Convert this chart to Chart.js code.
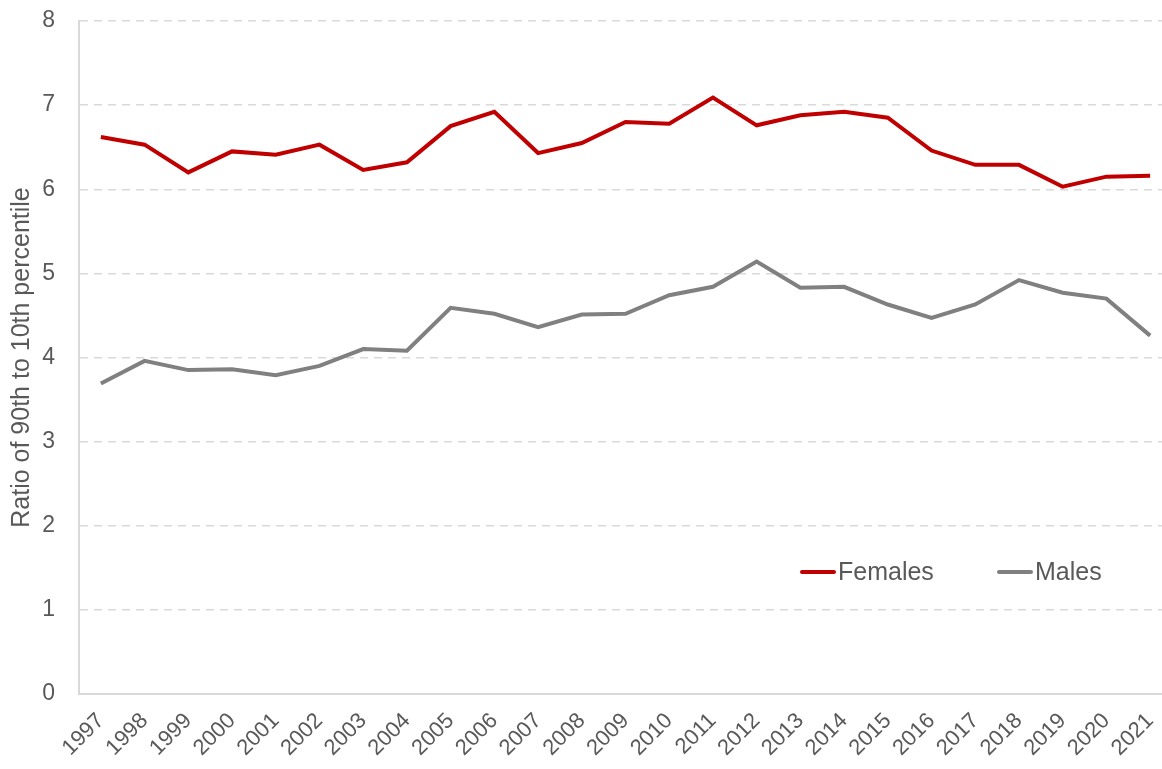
<!DOCTYPE html>
<html>
<head>
<meta charset="utf-8">
<script src="https://cdn.jsdelivr.net/npm/chart.js@4/dist/chart.umd.min.js"></script>
<style>
  html, body { margin: 0; padding: 0; background: #fff; overflow: hidden; }
  #wrap { width: 1172px; height: 769px; }
</style>
</head>
<body>
<div id="wrap"><canvas id="ratio"></canvas></div>
<script>
let years = ['1997','1998','1999','2000','2001','2002','2003','2004','2005','2006','2007','2008',
  '2009','2010','2011','2012','2013','2014','2015','2016','2017','2018','2019','2020','2021']
let females = [6.62,6.53,6.20,6.45,6.41,6.53,6.23,6.32,6.75,6.92,6.43,6.55,
  6.80,6.78,7.09,6.76,6.88,6.92,6.85,6.46,6.29,6.29,6.03,6.15,6.16]
let males = [3.69,3.96,3.85,3.86,3.79,3.90,4.10,4.08,4.59,4.52,4.36,4.51,
  4.52,4.74,4.84,5.14,4.83,4.84,4.63,4.47,4.63,4.92,4.77,4.70,4.26]
let seriesNames = ['Females','Males']
let seriesColors = ['#c00000','#808080']

let textColor = '#595959'
let font = 'Liberation Sans, Arial, sans-serif'

// legend sits inside the plot, bottom right
let innerLegend = {
  id: 'innerLegend',
  afterDraw(chart) {
    let ctx = chart.ctx
    let spots = [800, 997]
    ctx.save()
    ctx.font = '25px ' + font
    ctx.textBaseline = 'middle'
    chart.data.datasets.forEach((ds, i) => {
      let x = spots[i], y = 572
      ctx.strokeStyle = ds.borderColor
      ctx.lineWidth = 4
      ctx.lineCap = 'round'
      ctx.beginPath()
      ctx.moveTo(x + 2, y)
      ctx.lineTo(x + 34, y)
      ctx.stroke()
      ctx.fillStyle = textColor
      ctx.fillText(ds.label, x + 38, y + 1)
    })
    ctx.restore()
  }
}

let ctx = document.querySelector('#ratio').getContext('2d')

let chart = new Chart(ctx, {
  type: 'line',
  data: {
    labels: years,
    datasets: [{
      label: seriesNames[0],
      data: females,
      borderColor: seriesColors[0],
      borderWidth: 4,
      pointRadius: 0,
      tension: 0
    }, {
      label: seriesNames[1],
      data: males,
      borderColor: seriesColors[1],
      borderWidth: 4,
      pointRadius: 0,
      tension: 0
    }]
  },
  options: {
    responsive: true,
    maintainAspectRatio: false,
    animation: false,
    layout: { padding: { top: 21, right: 0, left: 0, bottom: 0 } },
    plugins: {
      legend: { display: false },
      tooltip: { enabled: false }
    },
    scales: {
      x: {
        offset: true,
        grid: { display: false, drawTicks: false },
        border: { color: '#d9d9d9', width: 2 },
        ticks: {
          color: textColor,
          font: { family: font, size: 22 },
          minRotation: 45,
          maxRotation: 45,
          autoSkip: false,
          padding: 14
        },
        afterFit(scale) {
          scale.height = 75
          scale.paddingLeft = 0
          scale.paddingRight = 0
        }
      },
      y: {
        min: 0,
        max: 8,
        ticks: {
          stepSize: 1,
          color: textColor,
          font: { family: font, size: 23 },
          padding: 24
        },
        grid: {
          color: '#d9d9d9',
          lineWidth: 1.5,
          drawTicks: false
        },
        border: { color: '#d9d9d9', width: 2, dash: [8, 6] },
        title: {
          display: true,
          text: 'Ratio of 90th to 10th percentile',
          color: textColor,
          font: { family: font, size: 25 },
          padding: { top: 7, bottom: 0 }
        },
        afterFit(scale) {
          scale.width = 79
          scale.paddingTop = 0
          scale.paddingBottom = 0
        }
      }
    }
  },
  plugins: [innerLegend]
})
</script>
</body>
</html>
